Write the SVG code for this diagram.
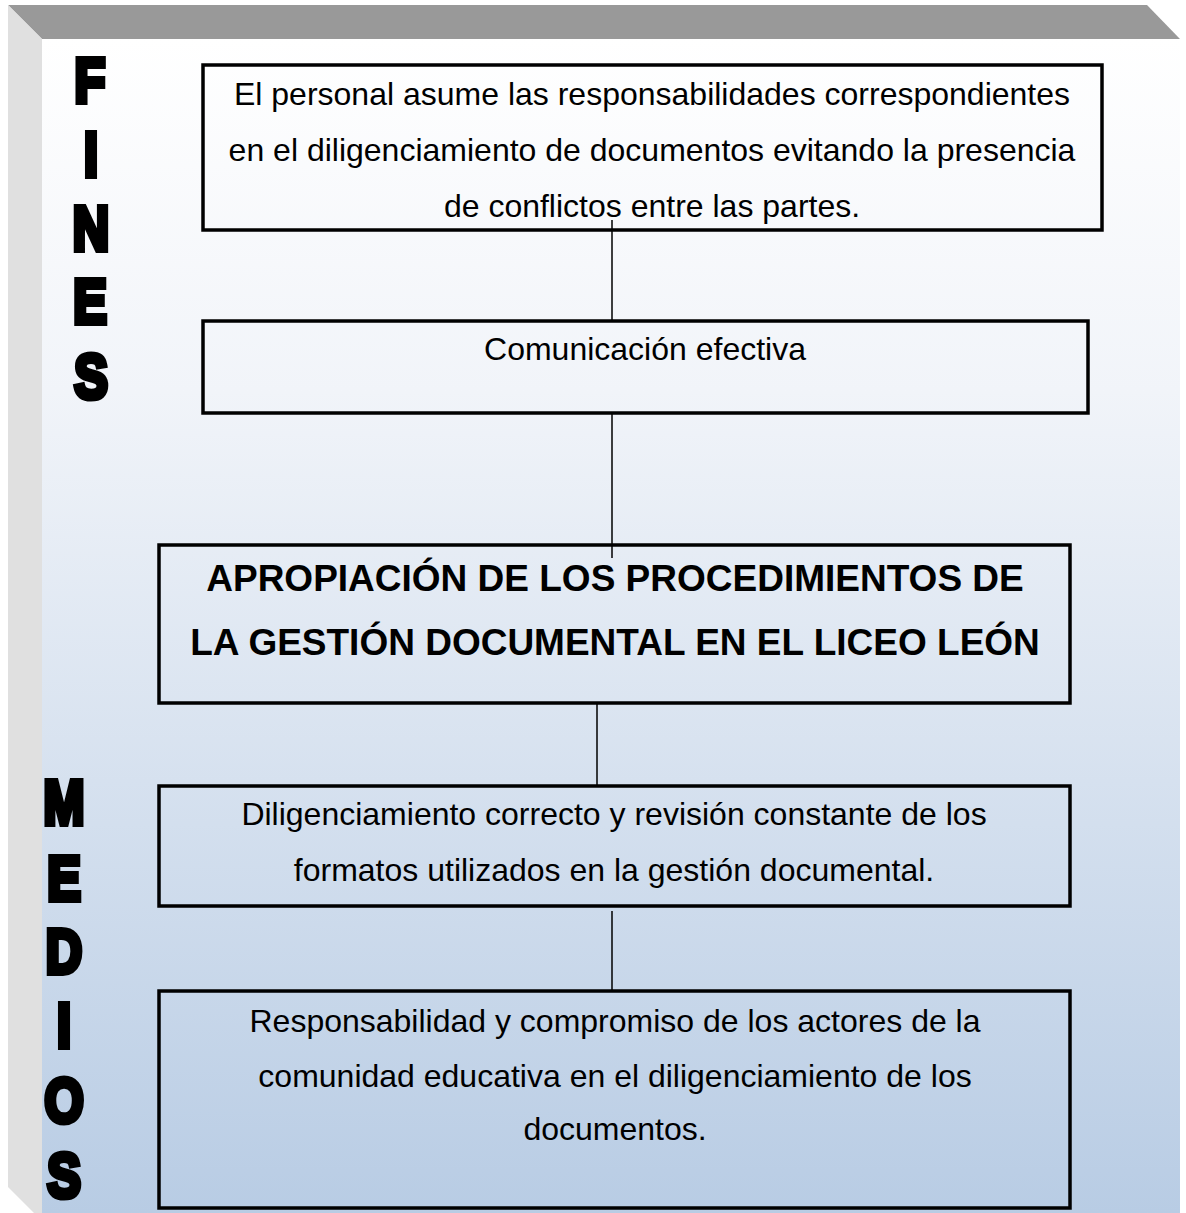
<svg xmlns="http://www.w3.org/2000/svg" width="1186" height="1213" viewBox="0 0 1186 1213">
<style>
.box{fill:none;stroke:#000;stroke-width:3.5}
.txt{font-family:"Liberation Sans",Arial,sans-serif;font-size:32px;fill:#000;text-anchor:middle}
.bold{font-family:"Liberation Sans",Arial,sans-serif;font-size:37px;font-weight:bold;fill:#000;text-anchor:middle}
.big{font-family:"Liberation Sans",Arial,sans-serif;font-size:63px;font-weight:bold;fill:#000;stroke:#000;stroke-width:6;stroke-linejoin:miter;text-anchor:middle}
.conn line{stroke:#000;stroke-width:1.5}
</style>
<defs>
<linearGradient id="face" x1="0" y1="0" x2="0" y2="1">
<stop offset="0" stop-color="#ffffff"/>
<stop offset="0.3" stop-color="#f1f4f9"/>
<stop offset="1" stop-color="#b8cce4"/>
</linearGradient>
</defs>
<rect width="1186" height="1213" fill="#fff"/>
<g id="frame">
<rect x="42" y="39" width="1138" height="1174" fill="url(#face)"/>
<polygon points="8,5 1147,5 1180,39 42,39" fill="#999999"/>
<polygon points="8,5 42,39 42,1213 34,1213 8,1187" fill="#e0e0e0"/>
</g>
<g id="fines">
<text class="big" transform="translate(90,102) scale(0.8,1)">F</text>
<text class="big" transform="translate(91,176) scale(0.8,1)">I</text>
<text class="big" transform="translate(91,250) scale(0.8,1)">N</text>
<text class="big" transform="translate(90,323) scale(0.8,1)">E</text>
<text class="big" transform="translate(91,398) scale(0.8,1)">S</text>
</g>
<g id="medios">
<text class="big" transform="translate(64,824) scale(0.78,1)">M</text>
<text class="big" transform="translate(64,900) scale(0.8,1)">E</text>
<text class="big" transform="translate(64,973) scale(0.8,1)">D</text>
<text class="big" transform="translate(64,1047) scale(0.8,1)">I</text>
<text class="big" transform="translate(64,1122) scale(0.8,1)">O</text>
<text class="big" transform="translate(64,1197) scale(0.8,1)">S</text>
</g>
<g class="conn" id="connectors">
<line x1="612" y1="220" x2="612" y2="320"/>
<line x1="612" y1="413" x2="612" y2="558"/>
<line x1="597" y1="703" x2="597" y2="786"/>
<line x1="612" y1="911" x2="612" y2="990"/>
</g>
<g id="n1">
<rect class="box" x="203" y="65" width="899" height="165"/>
<text class="txt" x="652" y="105">El personal asume las responsabilidades correspondientes</text>
<text class="txt" x="652" y="161">en el diligenciamiento de documentos evitando la presencia</text>
<text class="txt" x="652" y="217">de conflictos entre las partes.</text>
</g>
<g id="n2">
<rect class="box" x="203" y="321" width="885" height="92"/>
<text class="txt" x="645" y="360">Comunicación efectiva</text>
</g>
<g id="n3">
<rect class="box" x="159" y="545" width="911" height="158"/>
<text class="bold" x="615" y="591">APROPIACIÓN DE LOS PROCEDIMIENTOS DE</text>
<text class="bold" x="615" y="655">LA GESTIÓN DOCUMENTAL EN EL LICEO LEÓN</text>
</g>
<g id="n4">
<rect class="box" x="159" y="786" width="911" height="120"/>
<text class="txt" x="614" y="825">Diligenciamiento correcto y revisión constante de los</text>
<text class="txt" x="614" y="881">formatos utilizados en la gestión documental.</text>
</g>
<g id="n5">
<rect class="box" x="159" y="991" width="911" height="217"/>
<text class="txt" x="615" y="1032">Responsabilidad y compromiso de los actores de la</text>
<text class="txt" x="615" y="1087">comunidad educativa en el diligenciamiento de los</text>
<text class="txt" x="615" y="1140">documentos.</text>
</g>
</svg>
